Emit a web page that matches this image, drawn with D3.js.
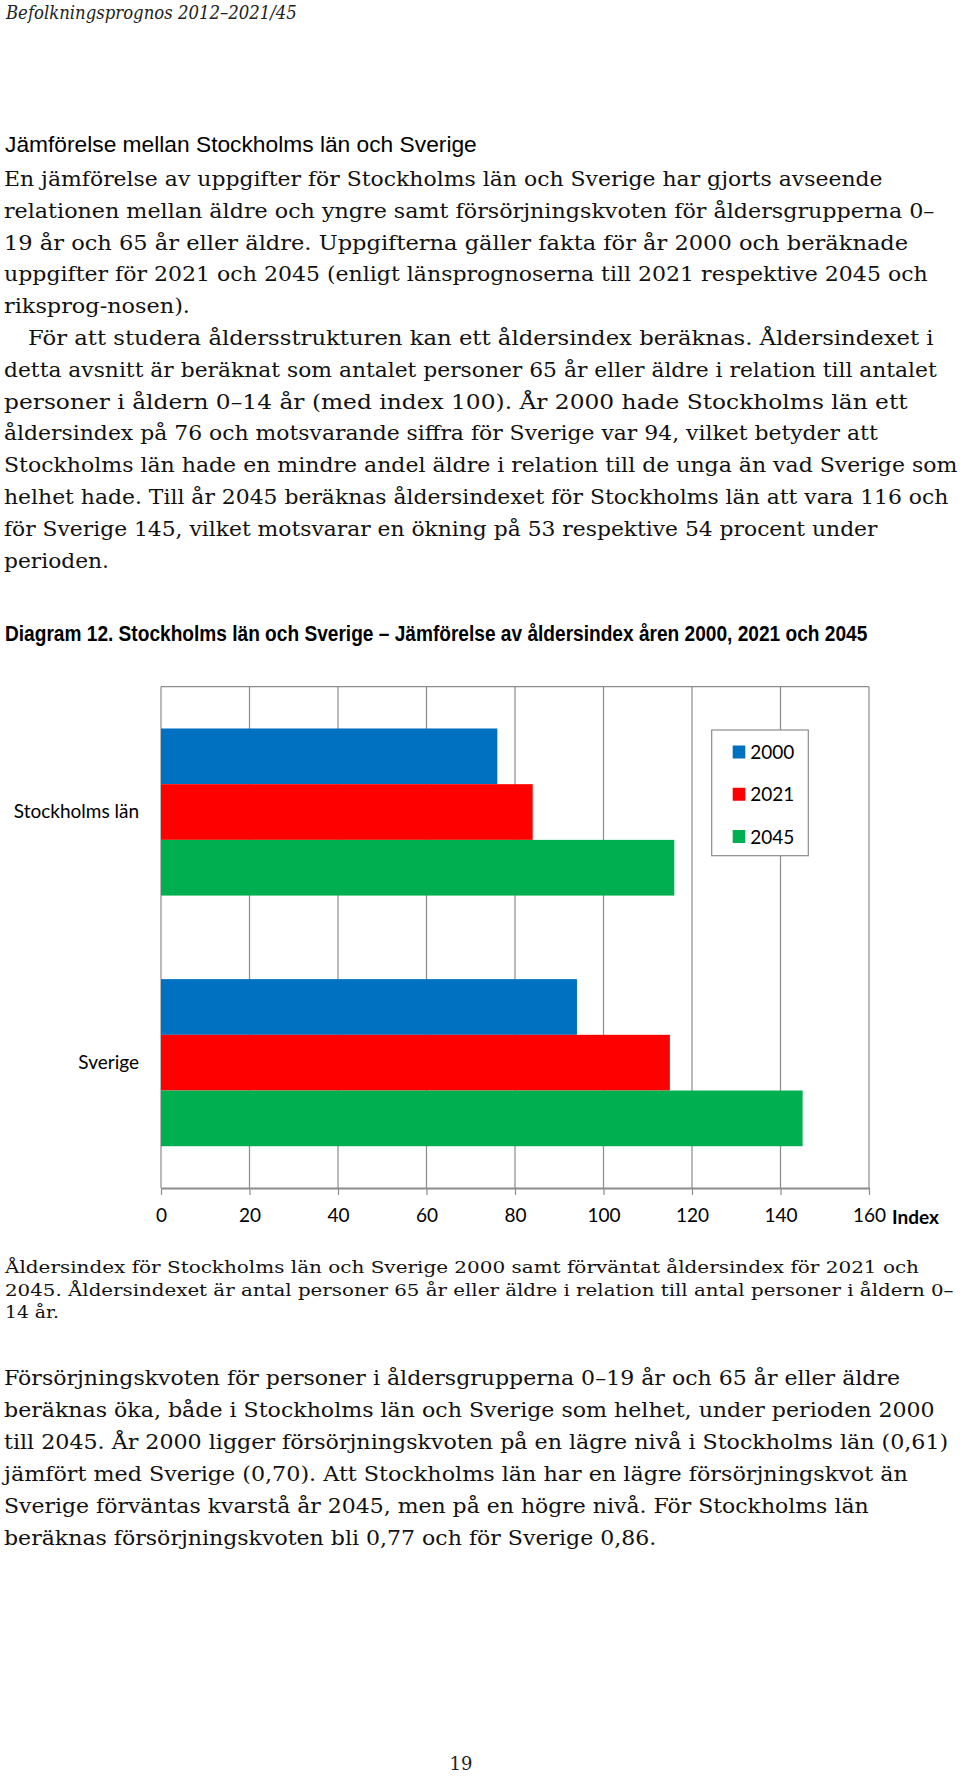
<!DOCTYPE html>
<html>
<head>
<meta charset="utf-8">
<script src="https://cdn.jsdelivr.net/npm/d3@7"></script>
<style>
  html, body { margin: 0; padding: 0; background: #fff; }
  svg { display: block; }
</style>
</head>
<body>
<script>
// ---------------- DATA ----------------
const categories = ["Stockholms län", "Sverige"];
const years = ["2000", "2021", "2045"];
const values2000 = [76, 94];
const values2021 = [84, 115];
const values2045 = [116, 145];
const tickValues = [0, 20, 40, 60, 80, 100, 120, 140, 160];
const axisUnit = "Index";
const seriesColors = ["#0070C0", "#FF0000", "#00B050"];

const pageHeader = "Befolkningsprognos 2012–2021/45";
const sectionHeading = "Jämförelse mellan Stockholms län och Sverige";
const para1 = [
  "En jämförelse av uppgifter för Stockholms län och Sverige har gjorts avseende",
  "relationen mellan äldre och yngre samt försörjningskvoten för åldersgrupperna 0–",
  "19 år och 65 år eller äldre. Uppgifterna gäller fakta för år 2000 och beräknade",
  "uppgifter för 2021 och 2045 (enligt länsprognoserna till 2021 respektive 2045 och",
  "riksprog-nosen).",
  "För att studera åldersstrukturen kan ett åldersindex beräknas. Åldersindexet i",
  "detta avsnitt är beräknat som antalet personer 65 år eller äldre i relation till antalet",
  "personer i åldern 0–14 år (med index 100).  År 2000 hade Stockholms län ett",
  "åldersindex på 76 och motsvarande siffra för Sverige var 94, vilket betyder att",
  "Stockholms län hade en mindre andel äldre i relation till de unga än vad Sverige som",
  "helhet hade. Till år 2045 beräknas åldersindexet för Stockholms län att vara 116 och",
  "för Sverige 145, vilket motsvarar en ökning på 53 respektive 54 procent under",
  "perioden."
];
const diagramTitle = "Diagram 12. Stockholms län och Sverige – Jämförelse av åldersindex åren 2000, 2021 och 2045";
const caption = [
  "Åldersindex för Stockholms län och Sverige 2000 samt förväntat åldersindex för 2021 och",
  "2045. Åldersindexet är antal personer 65 år eller äldre i relation till antal personer i åldern 0–",
  "14 år."
];
const para2 = [
  "Försörjningskvoten för personer i åldersgrupperna 0–19 år och 65 år eller äldre",
  "beräknas öka, både i Stockholms län och Sverige som helhet, under perioden 2000",
  "till 2045. År 2000 ligger försörjningskvoten på en lägre nivå i Stockholms län (0,61)",
  "jämfört med Sverige (0,70). Att Stockholms län har en lägre försörjningskvot än",
  "Sverige förväntas kvarstå år 2045, men på en högre nivå. För Stockholms län",
  "beräknas försörjningskvoten bli 0,77 och för Sverige 0,86."
];
const pageNumber = "19";

// ---------------- LAYOUT ----------------
const W = 960, H = 1776;
const svg = d3.select("body").append("svg").attr("width", W).attr("height", H);
svg.append("rect").attr("width", W).attr("height", H).attr("fill", "#fff");

const serif = "'DejaVu Serif', 'Liberation Serif', serif";
const sans = "'Liberation Sans Narrow', 'Liberation Sans', Arial, sans-serif";
const chartFont = "Lato, 'Open Sans', sans-serif";

// Draws a line of text starting at x (baseline y), scaled horizontally so it ends at endX.
function fitLine(g, str, x, y, endX, opts) {
  const t = g.append("text").attr("x", 0).attr("y", 0).text(str)
    .attr("font-family", opts.family).attr("font-size", opts.size)
    .attr("fill", opts.fill || "#111");
  if (opts.style) t.attr("font-style", opts.style);
  if (opts.weight) t.attr("font-weight", opts.weight);
  const w = t.node().getComputedTextLength();
  const sx = (endX != null && w > 0) ? (endX - x) / w : 1;
  t.attr("transform", `translate(${x},${y}) scale(${sx},1)`);
  return t;
}

const txt = svg.append("g");
fitLine(txt, pageHeader, 6, 19, 297, {family: serif, size: 19, style: "italic", fill: "#222"});
fitLine(txt, sectionHeading, 5, 152, 477, {family: sans, size: 22, fill: "#000"});

const p1Ends = [883, 935, 909, 928, 190, 934, 937, 908, 878, 958, 949, 878, 109];
para1.forEach((s, i) => {
  const x = i === 5 ? 28 : 4;
  fitLine(txt, s, x, 186 + i * 31.8, p1Ends[i], {family: serif, size: 21});
});

fitLine(txt, diagramTitle, 5, 641, 868, {family: sans, size: 21.5, weight: "bold", fill: "#000"});

const capEnds = [920, 954, 59];
caption.forEach((s, i) => {
  fitLine(txt, s, 5, 1273 + i * 22.5, capEnds[i], {family: serif, size: 17.5});
});

const p2Ends = [901, 935, 949, 908, 869, 657];
para2.forEach((s, i) => {
  fitLine(txt, s, 4, 1385 + i * 32, p2Ends[i], {family: serif, size: 21});
});

txt.append("text").attr("x", 461).attr("y", 1770).attr("text-anchor", "middle")
  .attr("font-family", serif).attr("font-size", 18).attr("fill", "#222").text(pageNumber);

// ---------------- CHART ----------------
const plot = {left: 161, right: 869, top: 686.7, bottom: 1188};
const gridColor = "#8c8c8c";

const x = d3.scaleLinear().domain([0, 160]).range([plot.left, plot.right]);
const yCat = d3.scaleBand().domain(categories).range([plot.top, plot.bottom]).padding(0);
const yYear = d3.scaleBand().domain(years).range([0, yCat.bandwidth()])
  .paddingInner(0).paddingOuter(0.75);
const color = d3.scaleOrdinal().domain(years).range(seriesColors);
const seriesValues = [values2000, values2021, values2045];

const chart = svg.append("g");

// gridlines
chart.append("g").selectAll("line").data(tickValues).join("line")
  .attr("x1", d => x(d)).attr("x2", d => x(d))
  .attr("y1", plot.top).attr("y2", plot.bottom)
  .attr("stroke", gridColor).attr("stroke-width", 1.2);
// top border of plot area
chart.append("line").attr("x1", plot.left).attr("x2", plot.right)
  .attr("y1", plot.top).attr("y2", plot.top)
  .attr("stroke", gridColor).attr("stroke-width", 1.2);

// bars
const data = [];
categories.forEach((c, ci) => years.forEach((yr, yi) => data.push({c, yr, v: seriesValues[yi][ci]})));
chart.append("g").selectAll("rect").data(data).join("rect")
  .attr("x", x(0))
  .attr("y", d => yCat(d.c) + yYear(d.yr))
  .attr("width", d => x(d.v) - x(0))
  .attr("height", yYear.bandwidth())
  .attr("fill", d => color(d.yr));

// x axis
const xAxis = chart.append("g").attr("transform", `translate(0,${plot.bottom})`)
  .call(d3.axisBottom(x).tickValues(tickValues).tickSize(7).tickPadding(14).tickSizeOuter(0));
xAxis.select(".domain").attr("stroke", gridColor).attr("stroke-width", 2);
xAxis.selectAll(".tick line").attr("stroke", gridColor).attr("stroke-width", 1.2);
xAxis.selectAll(".tick text").attr("font-family", chartFont).attr("font-size", 19).attr("fill", "#000");
chart.append("text").attr("x", 892).attr("y", 1223.5)
  .attr("font-family", chartFont).attr("font-size", 19).attr("font-weight", "bold")
  .attr("fill", "#000").text(axisUnit);

// y axis (category labels)
const yAxis = chart.append("g").attr("transform", `translate(${plot.left},0)`)
  .call(d3.axisLeft(yCat).tickSize(0).tickPadding(22));
yAxis.select(".domain").remove();
yAxis.selectAll(".tick text").attr("font-family", chartFont).attr("font-size", 19).attr("fill", "#000");

// legend
const lg = chart.append("g");
lg.append("rect").attr("x", 711.7).attr("y", 730).attr("width", 96.6).attr("height", 125.7)
  .attr("fill", "#fff").attr("stroke", gridColor).attr("stroke-width", 1.2);
const legendY = d3.scalePoint().domain(years).range([752, 836.5]);
const li = lg.selectAll("g.item").data(years).join("g").attr("class", "item")
  .attr("transform", d => `translate(732.7,${legendY(d)})`);
li.append("rect").attr("x", 0).attr("y", -6.5).attr("width", 12.6).attr("height", 13)
  .attr("fill", d => color(d));
li.append("text").attr("x", 17.5).attr("y", 7).attr("font-family", chartFont)
  .attr("font-size", 19).attr("fill", "#000").text(d => d);
</script>
</body>
</html>
